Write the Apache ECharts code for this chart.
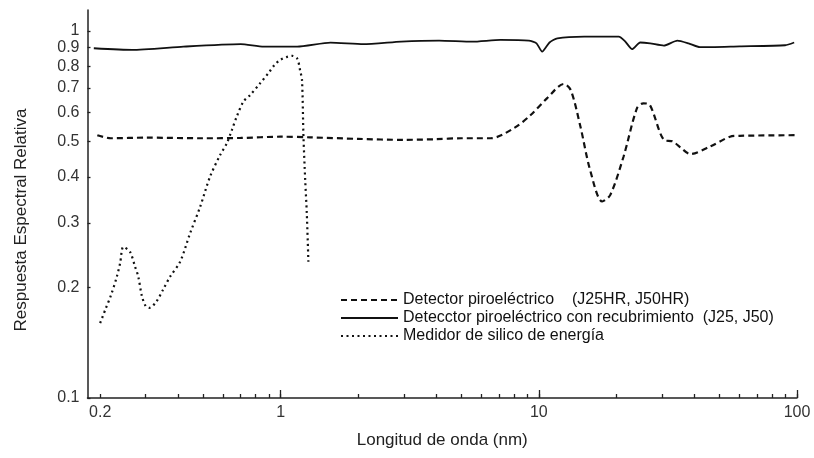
<!DOCTYPE html>
<html>
<head>
<meta charset="utf-8">
<script src="https://cdn.jsdelivr.net/npm/echarts@6/dist/echarts.min.js"></script>
<style>html,body{margin:0;padding:0;background:#fff;}#c{width:814px;height:458px;}</style>
</head>
<body>
<div id="c"></div>
<script>
// Wavelength (nm) / relative spectral response
const pyroX = [0.195,0.22,0.3,0.5,0.7,1.0,1.3,2.0,3.0,4.0,5.0,6.5,8.0,9.3,10.75,12.5,13.3,14.5,15.8,17.6,18.9,21.3,24.0,25.4,26.9,30.5,33,35.3,38.6,46,55,60,100];
const pyroY = [0.52,0.51,0.512,0.51,0.511,0.515,0.513,0.508,0.505,0.507,0.51,0.51,0.543,0.59,0.655,0.717,0.69,0.548,0.418,0.343,0.357,0.455,0.616,0.635,0.629,0.505,0.5,0.482,0.462,0.484,0.515,0.518,0.52];

const coatX = [0.189,0.266,0.42,0.70,0.86,1.16,1.56,2.09,2.93,4.11,5.52,7.1,9.15,9.8,10.3,11.0,11.8,15,20.4,21.5,23,24.7,27,30.5,34.4,38,42.1,60,90,97.5];
const coatY = [0.897,0.888,0.906,0.92,0.906,0.906,0.929,0.92,0.935,0.941,0.935,0.945,0.941,0.925,0.878,0.93,0.955,0.965,0.965,0.94,0.892,0.93,0.925,0.912,0.941,0.925,0.903,0.908,0.914,0.93];

const siX = [0.2,0.21,0.22,0.232,0.239,0.246,0.261,0.273,0.281,0.29,0.3,0.31,0.33,0.35,0.373,0.408,0.446,0.488,0.533,0.583,0.619,0.647,0.676,0.718,0.762,0.833,0.9,0.95,1.0,1.06,1.11,1.16,1.19,1.21,1.226,1.245,1.263,1.281];
const siY = [0.16,0.175,0.19,0.214,0.233,0.258,0.25,0.228,0.214,0.19,0.178,0.176,0.183,0.197,0.214,0.235,0.281,0.332,0.401,0.459,0.494,0.537,0.584,0.642,0.669,0.72,0.77,0.81,0.835,0.85,0.855,0.84,0.78,0.735,0.515,0.393,0.318,0.235];

const xTickVals = [0.2,0.3,0.4,0.5,0.6,0.7,0.8,0.9,1,2,3,4,5,6,7,8,9,10,20,30,40,50,60,70,80,90,100];
const xLabelVals = [0.2,1,10,100];
const xMajorVals = [1,10,100];
const yTickVals = [0.1,0.2,0.3,0.4,0.5,0.6,0.7,0.8,0.9,1];

const seriesNames = ['Detector piroeléctrico    (J25HR, J50HR)','Detecctor piroeléctrico con recubrimiento  (J25, J50)','Medidor de silico de energía'];
const xTitle = 'Longitud de onda (nm)';
const yTitle = 'Respuesta Espectral Relativa';

const L = Math.log10;
const pts = (xs, ys) => xs.map((x, i) => [L(x), L(ys[i])]);
const fmt = v => { const r = Math.round(Math.pow(10, v) * 1000) / 1000; return String(r); };
const FONT = 'Liberation Sans, Arial, sans-serif';

const xMin = -0.748, xMax = 2, yMin = -1, yMax = 0.057;

const chart = echarts.init(document.getElementById('c'), null, {renderer: 'canvas'});
chart.setOption({
  animation: false,
  backgroundColor: '#fff',
  grid: {left: 87.5, right: 17, top: 10, bottom: 60},
  legend: {
    orient: 'vertical', left: 335, top: 287, itemWidth: 57, itemHeight: 10, itemGap: 2,
    selectedMode: false,
    textStyle: {fontFamily: FONT, fontSize: 16, color: '#111'},
    itemStyle: {opacity: 0},
    data: seriesNames
  },
  xAxis: [{
    type: 'value', min: xMin, max: xMax,
    name: xTitle, nameLocation: 'middle', nameGap: 34,
    nameTextStyle: {fontFamily: FONT, fontSize: 17, color: '#222'},
    splitLine: {show: false},
    axisLine: {onZero: false, lineStyle: {color: '#222', width: 1.5}},
    axisTick: {inside: true, length: 4, customValues: xTickVals.map(L), lineStyle: {color: '#222', width: 1.3}},
    axisLabel: {customValues: xLabelVals.map(L), formatter: fmt, fontFamily: FONT, fontSize: 16, color: '#333', margin: 7}
  }, {
    type: 'value', min: xMin, max: xMax, position: 'bottom',
    splitLine: {show: false},
    axisLine: {show: false, onZero: false},
    axisTick: {inside: true, length: 8, customValues: xMajorVals.map(L), lineStyle: {color: '#222', width: 1.3}},
    axisLabel: {show: false}
  }],
  yAxis: {
    type: 'value', min: yMin, max: yMax,
    name: yTitle, nameLocation: 'middle', nameGap: 58,
    nameTextStyle: {fontFamily: FONT, fontSize: 17, color: '#222', padding: [0, 32, 0, 0]},
    splitLine: {show: false},
    axisLine: {onZero: false, lineStyle: {color: '#222', width: 1.5}},
    axisTick: {inside: true, length: 3, customValues: yTickVals.map(L), lineStyle: {color: '#222', width: 1.3}},
    axisLabel: {customValues: yTickVals.map(L), formatter: fmt, fontFamily: FONT, fontSize: 16, color: '#333', margin: 8}
  },
  series: [
    {name: seriesNames[0], type: 'line', data: pts(pyroX, pyroY), showSymbol: false, symbol: 'none', smooth: 0.3,
     color: '#111', lineStyle: {color: '#111', width: 2.2, type: [6, 4]}},
    {name: seriesNames[1], type: 'line', data: pts(coatX, coatY), showSymbol: false, symbol: 'none', smooth: 0.2,
     color: '#111', lineStyle: {color: '#111', width: 1.8, type: 'solid'}},
    {name: seriesNames[2], type: 'line', data: pts(siX, siY), showSymbol: false, symbol: 'none', smooth: 0.3,
     color: '#111', lineStyle: {color: '#111', width: 2.2, type: [2, 3.5]}}
  ]
});
</script>
</body>
</html>
